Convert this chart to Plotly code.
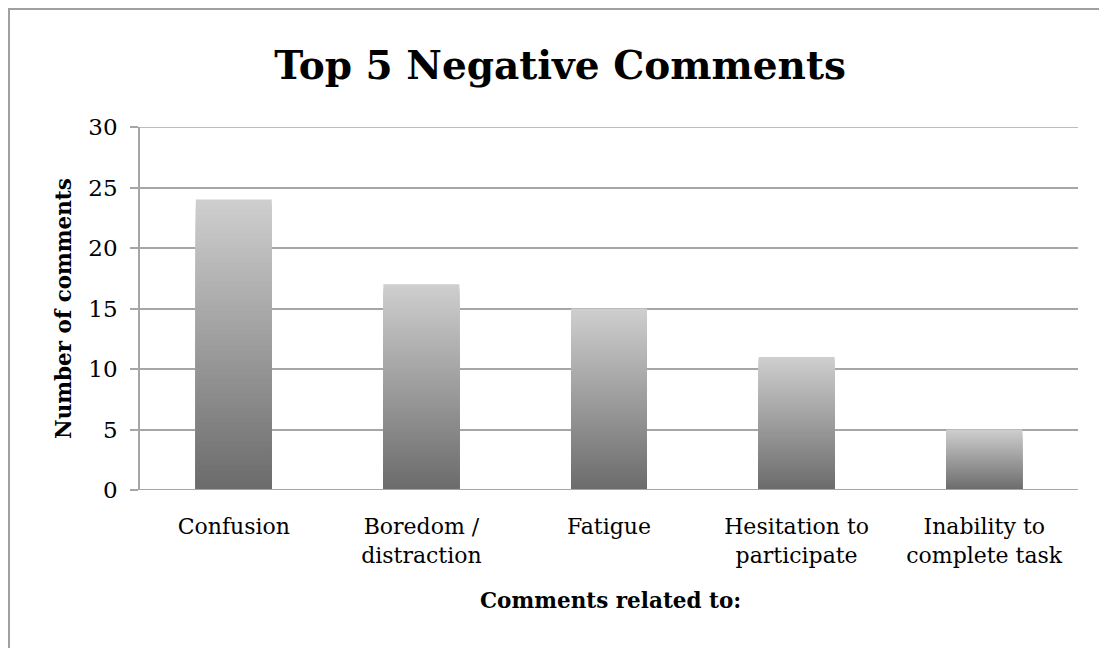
import plotly.graph_objects as go

categories = ["Confusion", "Boredom /<br>distraction", "Fatigue",
              "Hesitation to<br>participate", "Inability to<br>complete task"]
values = [24, 17, 15, 11, 5]
y_ticks = [0, 5, 10, 15, 20, 25, 30]

title_text = "Top 5 Negative Comments"
x_title = "Comments related to:"
y_title = "Number of comments"

FONT = "DejaVu Serif"
TOP = (206, 206, 206)
BOTTOM = (106, 106, 106)
N = 60

# page has an 8px body margin; figure coords = page coords - 8
W, H = 1099, 640
L, R, T, B = 132, 1070, 119, 482  # plot area edges in figure px

fig = go.Figure()
# gradient: overlaid bars, tallest (lightest) first, shorter darker ones on top
for k in range(N):
    f = 1 - k / N
    c = tuple(int(round(BOTTOM[i] + (TOP[i] - BOTTOM[i]) * f)) for i in range(3))
    fig.add_trace(go.Bar(
        x=categories, y=[v * f for v in values],
        marker=dict(color="rgb(%d,%d,%d)" % c, line=dict(width=0)),
        width=0.405, showlegend=False, hoverinfo="skip"))

pw, ph = R - L, B - T
fig.update_layout(
    barmode="overlay",
    width=W, height=H,
    margin=dict(l=L, r=W - R, t=T, b=H - B),
    paper_bgcolor="white", plot_bgcolor="white",
    font=dict(family=FONT, color="black", size=20),
    title=dict(text="<b>%s</b>" % title_text, x=552 / W, xanchor="center",
               y=1 - 57 / H, yanchor="middle", font=dict(size=39, family=FONT)),
    xaxis=dict(showgrid=False, showline=False, ticks="", tickfont=dict(size=22),
               zeroline=False, ticklabelstandoff=21),
    yaxis=dict(range=[0, 30], tickvals=y_ticks, showgrid=True, gridcolor="#a6a6a6",
               gridwidth=1.5, showline=True, linecolor="#a6a6a6", linewidth=1.5,
               ticks="outside", ticklen=8, tickcolor="#a6a6a6", tickwidth=1.5,
               zeroline=False, tickfont=dict(size=23), ticklabelstandoff=8),
    shapes=[
        # top gridline (plotly skips the grid line at the range edge)
        dict(type="line", xref="paper", yref="y", x0=0, x1=1,
             y0=y_ticks[-1], y1=y_ticks[-1], layer="below",
             line=dict(color="#a6a6a6", width=1.5)),
        dict(type="line", xref="paper", yref="y", x0=0, x1=1, y0=0, y1=0,
             line=dict(color="#9bbb59", width=2)),
        dict(type="rect", xref="paper", yref="paper",
             x0=(1 - L) / pw, x1=1.2, y0=-1, y1=1 + (T - 1) / ph,
             line=dict(color="#a0a0a0", width=2), fillcolor="rgba(0,0,0,0)", layer="below"),
    ],
    annotations=[
        dict(text="<b>%s</b>" % x_title, xref="paper", yref="paper",
             x=(602 - L) / pw, y=(B - 592) / ph, xanchor="center", yanchor="middle",
             showarrow=False, font=dict(size=21.5)),
        dict(text="<b>%s</b>" % y_title, xref="paper", yref="paper",
             x=(55 - L) / pw, y=(B - 301) / ph, xanchor="center", yanchor="middle",
             textangle=-90, showarrow=False, font=dict(size=21.5)),
    ],
)

fig.write_html("out.html")
